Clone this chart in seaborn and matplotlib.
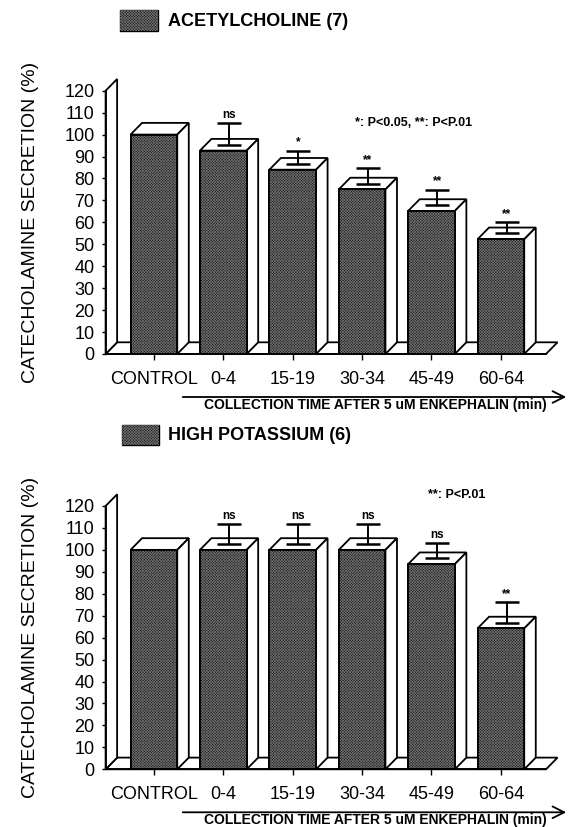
import matplotlib
matplotlib.use("Agg")
import matplotlib.pyplot as plt
from matplotlib.patches import Polygon, Rectangle, FancyArrowPatch
import seaborn as sns
import pandas as pd

# ---------------- data ----------------
categories = ["CONTROL", "0-4", "15-19", "30-34", "45-49", "60-64"]
ach_values = [100, 92.7, 84, 75, 65.2, 52.3]
ach_sem = [0, 10, 6, 7, 7, 5]
ach_marks = ["", "ns", "*", "**", "**", "**"]
k_values = [100, 100, 100, 100, 93.5, 64.2]
k_sem = [0, 9, 9, 9, 7, 9.5]
k_marks = ["", "ns", "ns", "ns", "ns", "**"]
y_ticks = [0, 10, 20, 30, 40, 50, 60, 70, 80, 90, 100, 110, 120]
ach_legend = "ACETYLCHOLINE (7)"
k_legend = "HIGH POTASSIUM (6)"
ach_note = "*: P<0.05, **: P<P.01"
k_note = "**: P<P.01"
y_label = "CATECHOLAMINE SECRETION (%)"
x_note = "COLLECTION TIME AFTER 5 uM ENKEPHALIN (min)"

# ---------------- style ----------------
W, H = 571, 827
sns.set_theme(style="white")
plt.rcParams["font.family"] = ["Liberation Sans", "DejaVu Sans"]
for k in ["text.color", "xtick.color", "ytick.color", "axes.labelcolor", "axes.edgecolor"]:
    plt.rcParams[k] = "black"
plt.rcParams["hatch.linewidth"] = 0.5

FACE = "#1c1c1c"
HATCH_COLOR = "#6e6e6e"
HATCH = "x" * 12
LW = 1.3

fig = plt.figure(figsize=(W / 100, H / 100), dpi=100)
fig.patch.set_facecolor("white")


def fx(px):
    return px / W


def fy(py):
    return 1 - py / H


def swatch(x0, y0, x1, y1):
    rect = Rectangle((fx(x0), fy(y1)), fx(x1) - fx(x0), (y1 - y0) / H,
                     transform=fig.transFigure, facecolor=FACE,
                     edgecolor="black", lw=1.0)
    fig.add_artist(rect)
    hat = Rectangle((fx(x0), fy(y1)), fx(x1) - fx(x0), (y1 - y0) / H,
                    transform=fig.transFigure, facecolor="none",
                    edgecolor=HATCH_COLOR, hatch=HATCH, lw=0)
    fig.add_artist(hat)


def panel(top_px, values, sem, marks, legend_text, legend_box, legend_y,
          note, note_xy, base_y):
    left_px, right_px = 105.6, 546
    h_px = 263.3
    bottom_px = top_px + h_px
    ax = fig.add_axes([fx(left_px), fy(bottom_px), (right_px - left_px) / W, h_px / H])
    df = pd.DataFrame({"period": categories, "value": values})
    sns.barplot(data=df, x="period", y="value", order=categories, color=FACE,
                saturation=1, width=0.673, edgecolor="black", linewidth=LW,
                ax=ax, zorder=3, errorbar=None)
    xl, xr = -0.696, 5.65
    ax.set_xlim(xl, xr)
    ax.set_ylim(0, 120)
    dx, dy = 0.166, 5.33
    bars = list(ax.patches)

    # floor and side wall
    ax.add_patch(Polygon([(xl, 0), (xl + dx, dy), (xr + dx, dy), (xr, 0)], closed=True,
                         facecolor="white", edgecolor="black", lw=LW, zorder=1, clip_on=False))
    ax.add_patch(Polygon([(xl, 0), (xl, 120), (xl + dx, 120 + dy), (xl + dx, dy)], closed=True,
                         facecolor="white", edgecolor="black", lw=LW, zorder=1.5, clip_on=False))

    for p, v, e, m in zip(bars, values, sem, marks):
        x0, w, h = p.get_x(), p.get_width(), p.get_height()
        ax.add_patch(Polygon([(x0, h), (x0 + dx, h + dy), (x0 + w + dx, h + dy), (x0 + w, h)],
                             closed=True, facecolor="white", edgecolor="black", lw=LW,
                             zorder=2.5, clip_on=False))
        ax.add_patch(Polygon([(x0 + w, 0), (x0 + w + dx, dy), (x0 + w + dx, h + dy), (x0 + w, h)],
                             closed=True, facecolor="white", edgecolor="black", lw=LW,
                             zorder=2.5, clip_on=False))
        ax.add_patch(Rectangle((x0, 0), w, h, facecolor="none", edgecolor=HATCH_COLOR,
                               hatch=HATCH, lw=0, zorder=3.5))
        ax.add_patch(Rectangle((x0, 0), w, h, fill=False, edgecolor="black", lw=LW, zorder=4))
        cx = x0 + w / 2 + dx / 2
        if e > 0:
            ax.errorbar([cx], [h + dy / 2], yerr=[[0], [e]], fmt="none", ecolor="black",
                        elinewidth=1.4, capsize=8.4, capthick=1.8, zorder=5, clip_on=False)
        if m:
            ax.annotate(m, xy=(cx, h + dy / 2 + e), xytext=(0, 1.5), textcoords="offset points",
                        ha="center", va="bottom", fontsize=8.5, fontweight="bold",
                        annotation_clip=False)

    for s in ["top", "right"]:
        ax.spines[s].set_visible(False)
    for s in ["left", "bottom"]:
        ax.spines[s].set_linewidth(LW)
        ax.spines[s].set_zorder(6)
    ax.set_yticks(y_ticks)
    ax.set_yticklabels([str(t) for t in y_ticks])
    ax.tick_params(axis="y", direction="out", length=3, width=1, pad=5, labelsize=13, left=True)
    ax.tick_params(axis="x", direction="out", length=4, width=1, pad=8, labelsize=13, bottom=True)
    ax.set_xlabel("")
    ax.set_ylabel("")
    ax.patch.set_alpha(0)

    # legend
    swatch(*legend_box)
    fig.text(fx(167.5), fy(legend_y), legend_text, ha="left", va="center",
             fontsize=13, fontweight="bold")
    # significance note
    fig.text(fx(note_xy[0]), fy(note_xy[1]), note, ha="left", va="center",
             fontsize=9, fontweight="bold")
    # y label
    fig.text(fx(31), fy(top_px + h_px / 2), y_label, rotation=90, ha="center",
             va="center", fontsize=14)
    # arrow + collection note
    fig.add_artist(FancyArrowPatch((fx(180), fy(base_y + 43)), (fx(569), fy(base_y + 43)),
                                   transform=fig.transFigure,
                                   arrowstyle="->,head_length=0.7,head_width=0.35",
                                   mutation_scale=12, lw=1.3, color="black"))
    fig.text(fx(375), fy(base_y + 51), x_note, ha="center", va="center",
             fontsize=10, fontweight="bold")
    return ax


panel(90.7, ach_values, ach_sem, ach_marks, ach_legend, (120, 10, 158, 31), 21.7,
      ach_note, (355, 122.7), 354)
panel(506, k_values, k_sem, k_marks, k_legend, (122, 425, 159, 445), 436,
      k_note, (428, 495), 769.3)

fig.savefig("out.png", dpi=100, facecolor="white")
